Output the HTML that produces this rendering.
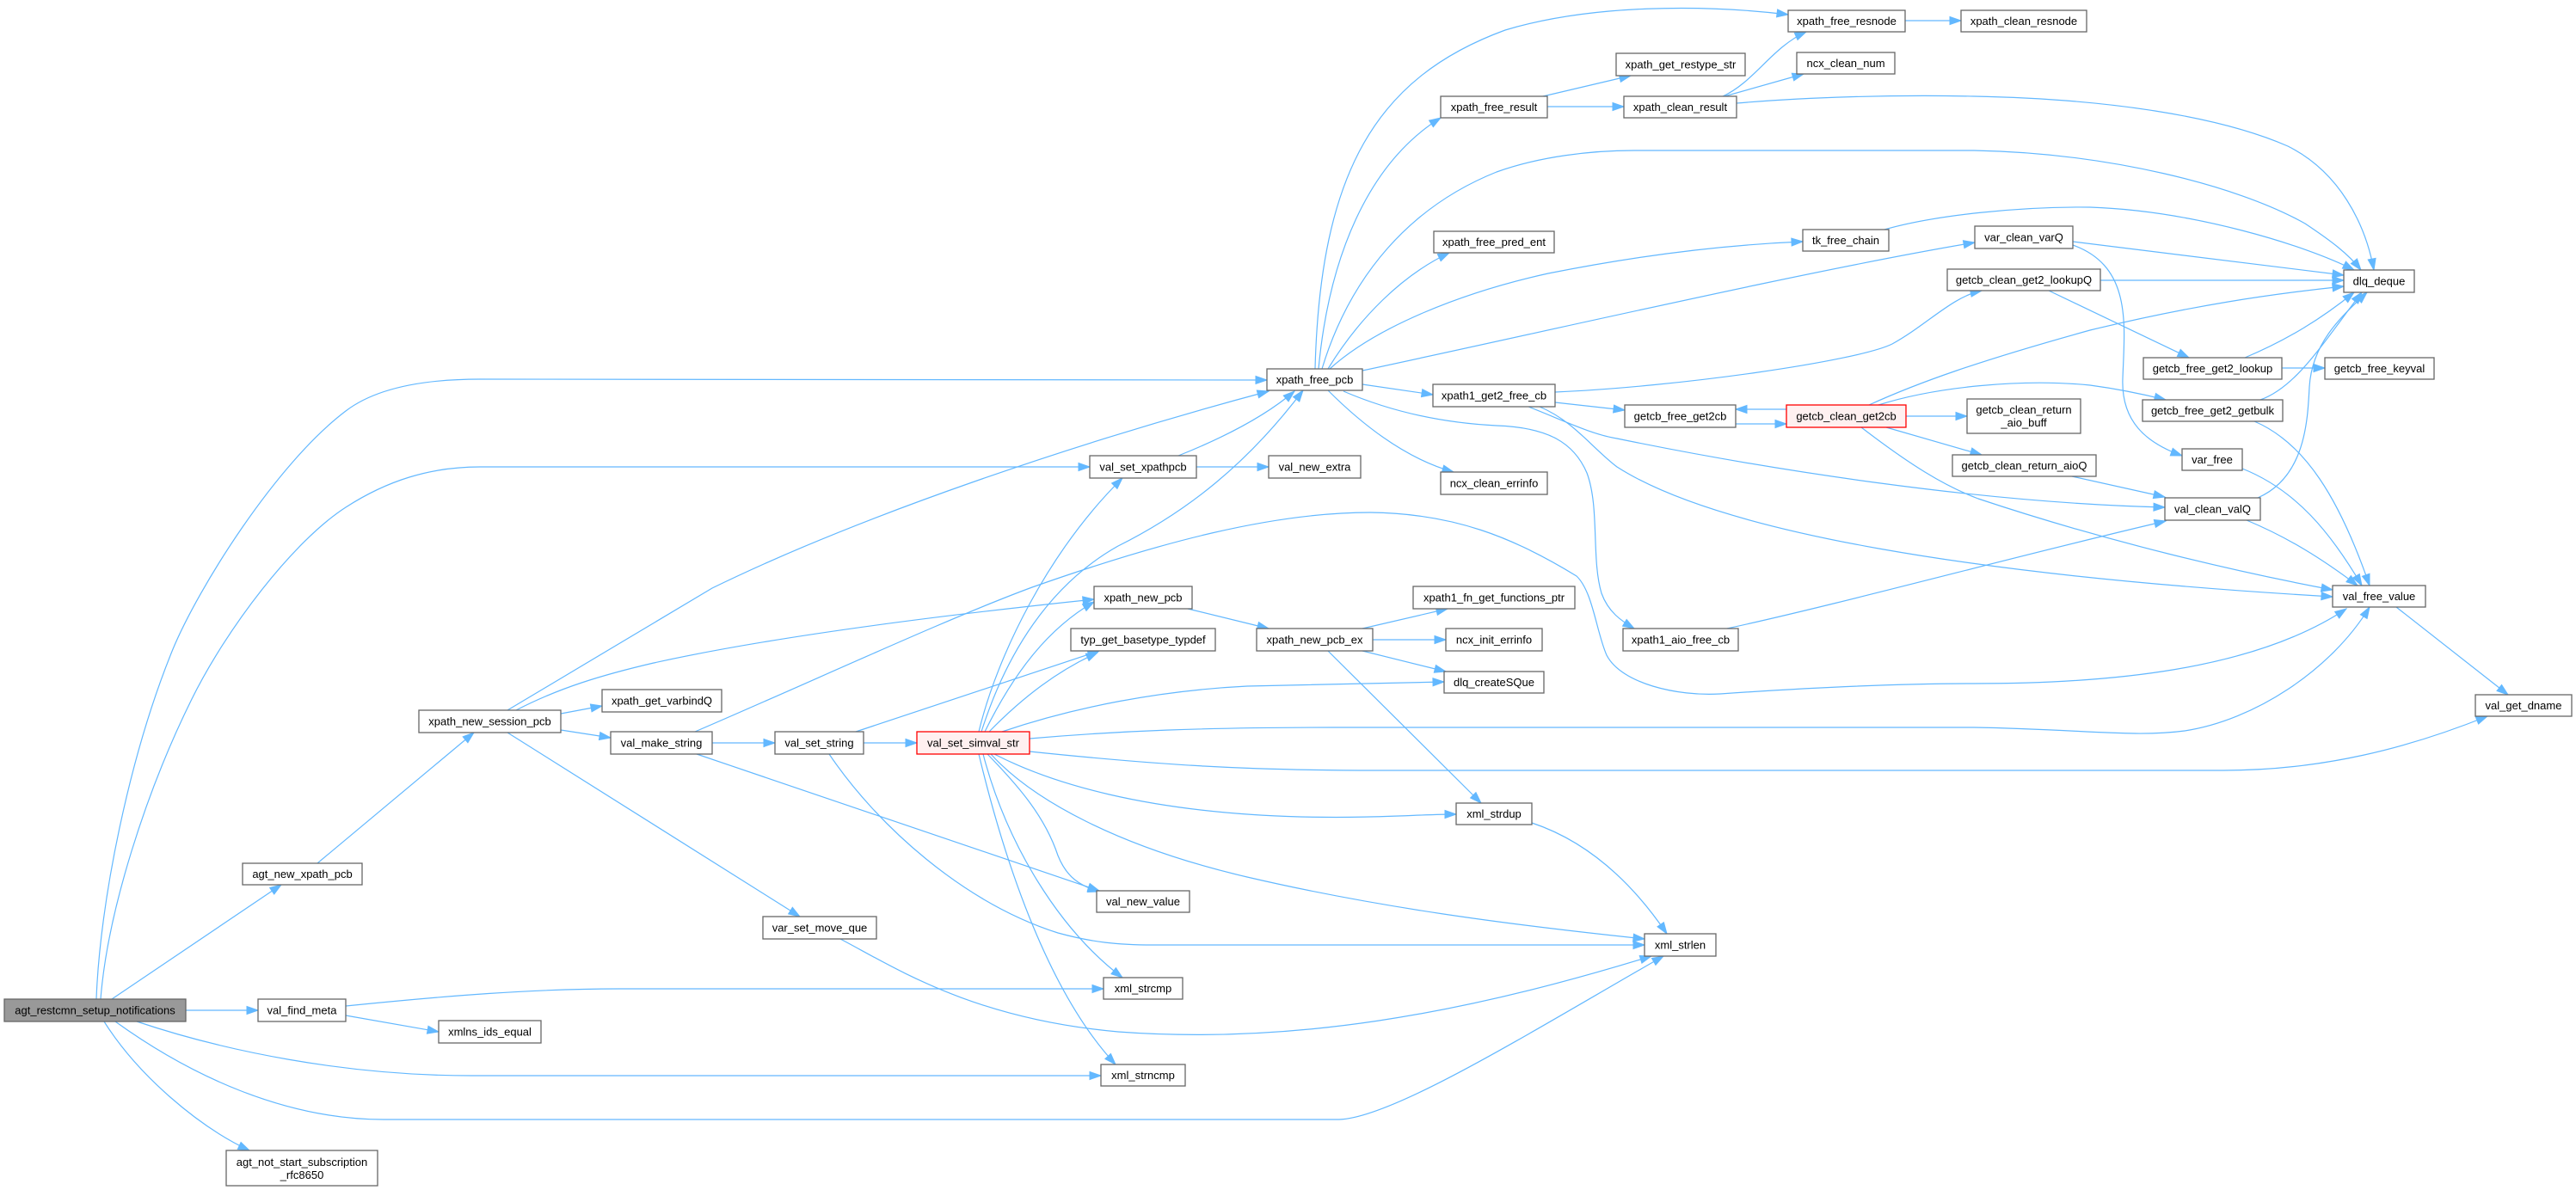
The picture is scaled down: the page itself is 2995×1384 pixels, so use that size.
<!DOCTYPE html>
<html><head><meta charset="utf-8"><style>
html,body{margin:0;padding:0;background:#fff;}
svg{display:block;}
text{font-family:"Liberation Sans",Arial,sans-serif;font-size:13px;fill:#000;text-anchor:middle;}
.e{fill:none;stroke:#63b8ff;stroke-width:1.2;marker-end:url(#ah);}
.n{fill:#fff;stroke:#666;stroke-width:1.3;}
.r{fill:#fff0f0;stroke:#ff0000;stroke-width:1.3;}
.g{fill:#999;stroke:#666;stroke-width:1.3;}
</style></head><body>
<svg width="2995" height="1384" viewBox="0 0 2995 1384" xmlns="http://www.w3.org/2000/svg">
<defs>
<marker id="ah" markerUnits="userSpaceOnUse" markerWidth="15" markerHeight="11" refX="13" refY="5" orient="auto" style="overflow:visible">
<path d="M0,0.5 L13,5 L0,9.5 z" fill="#63b8ff" stroke="#63b8ff" stroke-width="1"/>
</marker>
</defs>

<!-- edges -->
<g>
<!-- root -->
<path class="e" d="M112,1162 C116,1050 150,880 201,755 C230,685 320,540 402,478 C440,449 500,441 558,441 L1473,442"/>
<path class="e" d="M117,1162 C125,1060 170,920 223,813 C263,732 340,630 402,590 C450,559 500,543 558,543 L1267,543"/>
<path class="e" d="M130,1162 L327,1029"/>
<path class="e" d="M216,1175 L300,1175"/>
<path class="e" d="M159,1188 C260,1222 400,1251 548,1251 L1280,1251"/>
<path class="e" d="M134,1188 C220,1250 330,1302 446,1302 L1557,1302 C1620,1300 1780,1200 1934,1112"/>
<path class="e" d="M121,1188 C160,1250 230,1310 290,1338"/>
<!-- agt_new_xpath_pcb -->
<path class="e" d="M369,1004 L551,852"/>
<!-- val_find_meta -->
<path class="e" d="M402,1170 C520,1158 620,1150 720,1150 L1283,1150"/>
<path class="e" d="M402,1181 L510,1200"/>
<!-- session -->
<path class="e" d="M590,826 L828,684 C1000,600 1250,515 1475,455"/>
<path class="e" d="M600,826 C650,800 700,785 760,771 C900,740 1100,715 1272,697"/>
<path class="e" d="M652,830 L700,821"/>
<path class="e" d="M652,849 L710,858"/>
<path class="e" d="M590,852 L930,1066"/>
<!-- val_make_string -->
<path class="e" d="M828,864 L901,864"/>
<path class="e" d="M810,877 L1278,1036"/>
<path class="e" d="M808,851 C950,790 1100,720 1200,683 C1350,630 1480,596 1593,596 C1690,597 1760,625 1833,670 C1852,688 1856,735 1868,762 C1885,795 1950,810 2000,807 C2100,800 2200,795 2295,795 C2450,795 2620,780 2728,708"/>
<!-- val_set_string -->
<path class="e" d="M1004,864 L1066,864"/>
<path class="e" d="M995,851 L1278,757"/>
<path class="e" d="M964,877 C1020,960 1120,1050 1230,1085 C1270,1096 1300,1099 1340,1099 L1912,1099"/>
<!-- var_set_move_que -->
<path class="e" d="M977,1092 C1040,1125 1130,1185 1300,1200 C1500,1215 1700,1180 1920,1112"/>
<!-- xml_strdup -->
<path class="e" d="M1781,957 C1850,980 1900,1030 1938,1086"/>
<!-- simval -->
<path class="e" d="M1138,851 C1160,760 1220,640 1305,556"/>
<path class="e" d="M1141,851 C1170,760 1220,680 1300,635 C1380,595 1450,540 1515,454"/>
<path class="e" d="M1145,851 C1180,780 1220,730 1272,700"/>
<path class="e" d="M1150,851 C1190,810 1230,780 1276,759"/>
<path class="e" d="M1165,851 C1250,822 1350,803 1450,798 L1679,793"/>
<path class="e" d="M1197,859 C1300,850 1400,846 1550,846 L2295,846 C2420,848 2480,858 2540,850 C2620,838 2710,780 2755,706"/>
<path class="e" d="M1197,874 C1350,890 1450,896 1600,896 L2585,896 C2700,896 2800,870 2892,833"/>
<path class="e" d="M1156,877 C1220,910 1330,945 1512,950 C1600,952 1650,947 1693,947"/>
<path class="e" d="M1152,877 C1200,930 1300,985 1450,1020 C1600,1055 1750,1075 1912,1092"/>
<path class="e" d="M1148,877 C1185,915 1215,950 1230,995 C1240,1020 1255,1030 1278,1037"/>
<path class="e" d="M1143,877 C1170,980 1230,1080 1305,1137"/>
<path class="e" d="M1138,877 C1165,990 1215,1150 1297,1238"/>
<!-- xpath_free_pcb -->
<path class="e" d="M1529,429 C1535,200 1600,90 1750,35 C1850,5 1980,5 2079,17"/>
<path class="e" d="M1533,429 C1545,300 1590,190 1675,137"/>
<path class="e" d="M1537,429 C1570,320 1640,240 1740,200 C1790,182 1850,175 1900,175 L2295,175 C2450,178 2600,215 2680,260 C2710,280 2730,295 2745,314"/>
<path class="e" d="M1544,429 C1580,370 1630,320 1685,294"/>
<path class="e" d="M1546,429 C1600,380 1700,340 1800,318 C1900,298 2000,285 2096,281"/>
<path class="e" d="M1584,431 C1800,385 2100,315 2296,282"/>
<path class="e" d="M1584,447 L1666,459"/>
<path class="e" d="M1544,454 C1590,500 1640,535 1690,549"/>
<path class="e" d="M1562,455 C1620,480 1680,492 1740,495 C1800,497 1830,515 1845,550 C1860,590 1850,650 1862,690 C1870,712 1885,722 1900,731"/>
<!-- val_set_xpathpcb -->
<path class="e" d="M1370,530 C1420,510 1470,485 1505,455"/>
<path class="e" d="M1391,543 L1475,543"/>
<!-- xpath_free_result -->
<path class="e" d="M1794,112 L1896,88"/>
<path class="e" d="M1799,124 L1888,124"/>
<!-- xpath_clean_result -->
<path class="e" d="M2003,112 C2040,95 2060,55 2100,37"/>
<path class="e" d="M2005,112 L2097,86"/>
<path class="e" d="M2019,120 C2100,113 2200,110 2295,112 C2450,115 2580,135 2660,170 C2720,200 2750,260 2760,314"/>
<path class="e" d="M2215,24 L2280,24"/>
<!-- tk_free_chain -->
<path class="e" d="M2191,267 C2250,250 2350,240 2430,241 C2550,245 2680,285 2737,314"/>
<!-- var_clean_varQ -->
<path class="e" d="M2410,281 L2725,320"/>
<path class="e" d="M2410,285 C2480,310 2470,380 2468,440 C2466,490 2495,515 2537,530"/>
<!-- lookupQ -->
<path class="e" d="M2442,326 L2725,326"/>
<path class="e" d="M2382,338 L2545,416"/>
<!-- xpath1_get2_free_cb -->
<path class="e" d="M1808,456 C1950,450 2160,420 2200,400 C2240,378 2270,345 2304,338"/>
<path class="e" d="M1808,468 L1889,477"/>
<path class="e" d="M1777,473 C1820,490 1850,505 1880,510 C2050,545 2300,585 2517,590"/>
<path class="e" d="M1790,473 C1830,490 1850,520 1880,543 C2000,620 2300,670 2712,694"/>
<!-- getcb_free_get2cb / getcb_clean_get2cb -->
<path class="e" d="M2018,493 L2077,493"/>
<path class="e" d="M2077,476 L2018,476"/>
<path class="e" d="M2216,484 L2287,484"/>
<path class="e" d="M2193,497 L2304,529"/>
<path class="e" d="M2173,471 C2230,445 2300,420 2430,384 C2550,355 2640,342 2725,333"/>
<path class="e" d="M2184,471 C2250,450 2350,440 2430,448 C2460,452 2490,458 2518,465"/>
<path class="e" d="M2164,497 C2220,540 2260,565 2300,580 C2450,630 2600,665 2712,686"/>
<!-- aioQ, aio_free_cb -->
<path class="e" d="M2409,554 L2517,578"/>
<path class="e" d="M2008,731 C2150,700 2350,645 2518,606"/>
<!-- right cluster -->
<path class="e" d="M2610,416 C2660,395 2700,370 2737,340"/>
<path class="e" d="M2653,428 L2703,428"/>
<path class="e" d="M2628,465 C2670,450 2700,400 2746,340"/>
<path class="e" d="M2621,490 C2680,515 2720,580 2755,681"/>
<path class="e" d="M2625,579 C2680,555 2683,490 2685,450 C2688,400 2720,370 2752,340"/>
<path class="e" d="M2612,605 C2660,625 2700,650 2741,681"/>
<path class="e" d="M2607,545 C2670,570 2710,620 2746,681"/>
<path class="e" d="M2786,706 L2916,808"/>
<!-- xpath_new_pcb / ex -->
<path class="e" d="M1381,708 L1475,731"/>
<path class="e" d="M1584,731 L1683,708"/>
<path class="e" d="M1596,744 L1681,744"/>
<path class="e" d="M1584,757 L1681,781"/>
<path class="e" d="M1544,757 L1722,934"/>
</g>

<!-- nodes -->
<g>
<rect class="g" x="5" y="1162" width="211" height="26"/><text x="110.5" y="1179.5">agt_restcmn_setup_notifications</text>
<rect class="n" x="282" y="1004" width="139" height="25"/><text x="351.5" y="1021">agt_new_xpath_pcb</text>
<rect class="n" x="263" y="1338" width="176" height="41"/><text x="351" y="1356">agt_not_start_subscription</text><text x="351" y="1371">_rfc8650</text>
<rect class="n" x="300" y="1162" width="102" height="26"/><text x="351" y="1179.5">val_find_meta</text>
<rect class="n" x="510" y="1187" width="119" height="26"/><text x="569.5" y="1204.5">xmlns_ids_equal</text>
<rect class="n" x="487" y="826" width="165" height="26"/><text x="569.5" y="843.5">xpath_new_session_pcb</text>
<rect class="n" x="700" y="802" width="139" height="26"/><text x="769.5" y="819.5">xpath_get_varbindQ</text>
<rect class="n" x="710" y="851" width="118" height="26"/><text x="769" y="868.5">val_make_string</text>
<rect class="n" x="901" y="851" width="103" height="26"/><text x="952.5" y="868.5">val_set_string</text>
<rect class="n" x="887" y="1066" width="132" height="26"/><text x="953" y="1083.5">var_set_move_que</text>
<rect class="r" x="1066" y="851" width="131" height="26"/><text x="1131.5" y="868.5">val_set_simval_str</text>
<rect class="n" x="1473" y="429" width="111" height="25"/><text x="1528.5" y="446">xpath_free_pcb</text>
<rect class="n" x="1267" y="530" width="124" height="26"/><text x="1329" y="547.5">val_set_xpathpcb</text>
<rect class="n" x="1475" y="530" width="107" height="26"/><text x="1528.5" y="547.5">val_new_extra</text>
<rect class="n" x="1272" y="682" width="114" height="26"/><text x="1329" y="699.5">xpath_new_pcb</text>
<rect class="n" x="1245" y="731" width="168" height="26"/><text x="1329" y="748.5">typ_get_basetype_typdef</text>
<rect class="n" x="1275" y="1036" width="108" height="25"/><text x="1329" y="1053">val_new_value</text>
<rect class="n" x="1283" y="1137" width="92" height="25"/><text x="1329" y="1154">xml_strcmp</text>
<rect class="n" x="1280" y="1238" width="98" height="25"/><text x="1329" y="1255">xml_strncmp</text>
<rect class="n" x="1461" y="731" width="135" height="26"/><text x="1528.5" y="748.5">xpath_new_pcb_ex</text>
<rect class="n" x="1643" y="682" width="188" height="26"/><text x="1737" y="699.5">xpath1_fn_get_functions_ptr</text>
<rect class="n" x="1681" y="731" width="112" height="26"/><text x="1737" y="748.5">ncx_init_errinfo</text>
<rect class="n" x="1679" y="781" width="116" height="25"/><text x="1737" y="798">dlq_createSQue</text>
<rect class="n" x="1693" y="934" width="88" height="25"/><text x="1737" y="951">xml_strdup</text>
<rect class="n" x="1912" y="1086" width="83" height="26"/><text x="1953.5" y="1103.5">xml_strlen</text>
<rect class="n" x="1675" y="112" width="124" height="25"/><text x="1737" y="129">xpath_free_result</text>
<rect class="n" x="1667" y="269" width="140" height="25"/><text x="1737" y="286">xpath_free_pred_ent</text>
<rect class="n" x="1666" y="447" width="142" height="26"/><text x="1737" y="464.5">xpath1_get2_free_cb</text>
<rect class="n" x="1675" y="549" width="124" height="26"/><text x="1737" y="566.5">ncx_clean_errinfo</text>
<rect class="n" x="2079" y="12" width="136" height="25"/><text x="2147" y="29">xpath_free_resnode</text>
<rect class="n" x="2280" y="12" width="146" height="25"/><text x="2353" y="29">xpath_clean_resnode</text>
<rect class="n" x="1879" y="62" width="150" height="26"/><text x="1954" y="79.5">xpath_get_restype_str</text>
<rect class="n" x="2089" y="61" width="114" height="25"/><text x="2146" y="78">ncx_clean_num</text>
<rect class="n" x="1888" y="112" width="131" height="25"/><text x="1953.5" y="129">xpath_clean_result</text>
<rect class="n" x="2096" y="267" width="100" height="25"/><text x="2146" y="284">tk_free_chain</text>
<rect class="n" x="2296" y="263" width="114" height="26"/><text x="2353" y="280.5">var_clean_varQ</text>
<rect class="n" x="2264" y="313" width="178" height="25"/><text x="2353" y="330">getcb_clean_get2_lookupQ</text>
<rect class="n" x="1889" y="471" width="129" height="26"/><text x="1953.5" y="488.5">getcb_free_get2cb</text>
<rect class="r" x="2077" y="471" width="139" height="26"/><text x="2146.5" y="488.5">getcb_clean_get2cb</text>
<rect class="n" x="2287" y="464" width="132" height="40"/><text x="2353" y="481">getcb_clean_return</text><text x="2353" y="496">_aio_buff</text>
<rect class="n" x="2270" y="529" width="167" height="25"/><text x="2353.5" y="546">getcb_clean_return_aioQ</text>
<rect class="n" x="1887" y="731" width="134" height="26"/><text x="1954" y="748.5">xpath1_aio_free_cb</text>
<rect class="n" x="2725" y="314" width="82" height="26"/><text x="2766" y="331.5">dlq_deque</text>
<rect class="n" x="2492" y="416" width="161" height="25"/><text x="2572.5" y="433">getcb_free_get2_lookup</text>
<rect class="n" x="2703" y="416" width="127" height="25"/><text x="2766.5" y="433">getcb_free_keyval</text>
<rect class="n" x="2491" y="465" width="163" height="25"/><text x="2572.5" y="482">getcb_free_get2_getbulk</text>
<rect class="n" x="2537" y="522" width="70" height="25"/><text x="2572" y="539">var_free</text>
<rect class="n" x="2517" y="579" width="111" height="26"/><text x="2572.5" y="596.5">val_clean_valQ</text>
<rect class="n" x="2712" y="681" width="108" height="25"/><text x="2766" y="698">val_free_value</text>
<rect class="n" x="2878" y="808" width="112" height="25"/><text x="2934" y="825">val_get_dname</text>
</g>
</svg>
</body></html>
